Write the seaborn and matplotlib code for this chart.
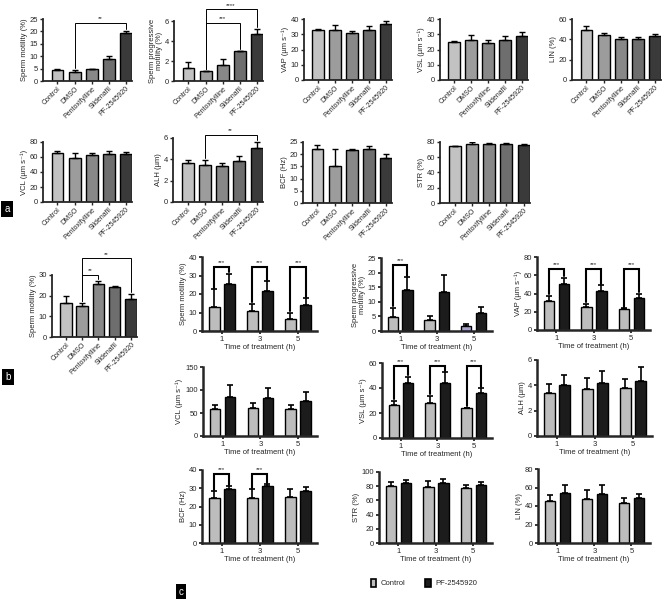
import numpy as np
import pandas as pd
import matplotlib
matplotlib.use("Agg")
import matplotlib.pyplot as plt
import seaborn as sns
from matplotlib.patches import Patch

sns.set_style("ticks")
plt.rcParams['font.family'] = ['Liberation Sans', 'DejaVu Sans']

# ---- panel a / b : five treatments ----
drugs = ["Control", "DMSO", "Pentoxifylline", "Sildenafil", "PF-2545920"]
drug_colors = ["#c2c2c2", "#9c9c9c", "#888888", "#6e6e6e", "#3a3a3a"]

motility_a = [4.3, 3.5, 5.0, 9.0, 19.3]
motility_a_err = [0.7, 0.8, 0.0, 1.2, 0.9]
prog_a = [1.3, 1.0, 1.65, 3.0, 4.7]
prog_a_err = [0.6, 0.0, 0.55, 0.0, 0.55]
vap_a = [32.5, 33.0, 30.8, 33.0, 36.7]
vap_a_err = [1.0, 3.0, 1.5, 2.6, 2.3]
vsl_a = [24.8, 26.4, 24.2, 26.4, 28.6]
vsl_a_err = [1.0, 3.3, 2.2, 2.6, 2.6]
lin_a = [48.8, 44.5, 40.6, 40.6, 42.9]
lin_a_err = [3.9, 1.7, 1.6, 1.6, 2.3]
vcl_a = [65.3, 59.0, 62.2, 64.4, 63.6]
vcl_a_err = [2.7, 6.3, 3.1, 3.6, 2.6]
alh_a = [3.63, 3.47, 3.38, 3.8, 5.05]
alh_a_err = [0.27, 0.47, 0.32, 0.52, 0.6]
bcf_a = [22.3, 15.0, 21.9, 22.3, 18.6]
bcf_a_err = [1.3, 7.3, 0.2, 0.9, 1.6]
str_a = [74.3, 76.9, 76.9, 76.9, 75.5]
str_a_err = [0.0, 3.1, 1.7, 1.7, 1.4]

motility_b = [16.5, 15.0, 25.6, 24.3, 18.6]
motility_b_err = [3.3, 1.5, 1.5, 0.3, 2.1]

# ---- panel c : control vs PF-2545920 over time ----
hours = ["1", "3", "5"]
groups = ["Control", "PF-2545920"]
group_colors = ["#bdbdbd", "#1c1c1c"]

mot_ctrl, mot_ctrl_err = [13.1, 10.8, 6.5], [9.5, 4.0, 3.4]
mot_pf, mot_pf_err = [25.6, 21.7, 14.3], [5.4, 5.2, 3.3]
prog_ctrl, prog_ctrl_err = [4.9, 3.8, 1.7], [3.1, 1.4, 0.7]
prog_pf, prog_pf_err = [14.1, 13.2, 6.1], [4.4, 6.1, 2.0]
vap_ctrl, vap_ctrl_err = [32.0, 25.5, 22.9], [5.5, 3.5, 0.7]
vap_pf, vap_pf_err = [50.2, 42.9, 35.6], [6.9, 6.2, 4.4]
vcl_ctrl, vcl_ctrl_err = [58.7, 61.6, 58.0], [8.7, 10.9, 9.4]
vcl_pf, vcl_pf_err = [85.5, 83.3, 76.8], [25.4, 21.7, 19.6]
vsl_ctrl, vsl_ctrl_err = [26.4, 28.2, 23.7], [3.4, 5.7, 0.5]
vsl_pf, vsl_pf_err = [43.9, 44.4, 35.8], [5.3, 8.3, 4.0]
alh_ctrl, alh_ctrl_err = [3.42, 3.68, 3.82], [0.66, 0.87, 0.65]
alh_pf, alh_pf_err = [4.03, 4.2, 4.37], [0.77, 0.96, 1.1]
bcf_ctrl, bcf_ctrl_err = [24.4, 24.4, 25.0], [4.0, 5.0, 4.4]
bcf_pf, bcf_pf_err = [29.5, 31.2, 28.4], [1.7, 1.1, 2.1]
str_ctrl, str_ctrl_err = [79.8, 78.9, 77.5], [6.1, 8.4, 3.7]
str_pf, str_pf_err = [84.5, 84.5, 82.2], [3.8, 5.2, 3.7]
lin_ctrl, lin_ctrl_err = [45.8, 47.3, 42.9], [5.8, 10.2, 5.5]
lin_pf, lin_pf_err = [53.8, 52.7, 48.4], [8.4, 10.2, 4.7]

W, H = 664, 599
fig = plt.figure(figsize=(W / 100, H / 100), dpi=100)


def px(x0, y0, x1, y1):
    return [x0 / W, 1 - y1 / H, (x1 - x0) / W, (y1 - y0) / H]


def bracket(ax, x1, x2, y1, y2, top, text, ymax, lw):
    ax.plot([x1, x1, x2, x2], [y1, top, top, y2], color="black", lw=lw,
            clip_on=False, solid_joinstyle="miter", zorder=4)
    ax.text((x1 + x2) / 2, top + 0.065 * ymax, text, ha="center", va="center",
            fontsize=4.5, color="#222222", clip_on=False)


def drug_panel(box, vals, errs, ylabel, ymax, step, sig=()):
    ax = fig.add_axes(px(*box))
    sns.barplot(x=drugs, y=vals, hue=drugs, order=drugs, hue_order=drugs,
                palette=drug_colors, width=0.7, edgecolor="black", linewidth=1.0,
                errorbar=None, legend=False, ax=ax)
    bars = sorted(ax.patches, key=lambda p: p.get_x())
    xs = [b.get_x() + b.get_width() / 2 for b in bars]
    ax.errorbar(xs, vals, yerr=[np.zeros(len(vals)), errs], fmt="none",
                ecolor="black", elinewidth=1.0, capsize=2.2, capthick=1.0, zorder=3)
    ax.set_xlim(-0.85, 4.37)
    ax.set_ylim(0, ymax)
    ax.set_yticks(np.arange(0, ymax + 1e-9, step))
    ax.set_xlabel("")
    ax.set_ylabel(ylabel, fontsize=5.5, labelpad=1.5, linespacing=1.0)
    ax.tick_params(axis="y", labelsize=5.5, length=2.5, width=1.0, pad=1)
    ax.tick_params(axis="x", labelsize=5.0, length=2, width=1.0, pad=1)
    plt.setp(ax.get_xticklabels(), rotation=45, ha="right", rotation_mode="anchor")
    sns.despine(ax=ax)
    for s in ["left", "bottom"]:
        ax.spines[s].set_linewidth(1.3)
    for i, j, lvl, txt in sig:
        pad = 0.03 * ymax
        bracket(ax, xs[i], xs[j], vals[i] + errs[i] + pad, vals[j] + errs[j] + pad,
                lvl * ymax, txt, ymax, 0.7)
    return ax


def time_panel(box, ctrl, ctrl_err, pf, pf_err, ylabel, ymax, step, sig=(), lvl=0.9):
    ax = fig.add_axes(px(*box))
    df = pd.DataFrame({"time": hours * 2,
                       "group": [groups[0]] * 3 + [groups[1]] * 3,
                       "value": ctrl + pf})
    sns.barplot(data=df, x="time", y="value", hue="group", order=hours,
                hue_order=groups, palette=group_colors, width=0.8, gap=0.3,
                edgecolor="black", linewidth=1.0, errorbar=None, legend=False, ax=ax)
    bars = sorted(ax.patches, key=lambda p: p.get_x())
    xc = [b.get_x() + b.get_width() / 2 for b in bars[0::2]]
    xp = [b.get_x() + b.get_width() / 2 for b in bars[1::2]]
    for xs, v, e in [(xc, ctrl, ctrl_err), (xp, pf, pf_err)]:
        ax.errorbar(xs, v, yerr=[np.zeros(3), e], fmt="none", ecolor="black",
                    elinewidth=1.2, capsize=2.4, capthick=1.2, zorder=3)
    ax.set_xlim(-0.52, 2.5)
    ax.set_ylim(0, ymax)
    ax.set_yticks(np.arange(0, ymax + 1e-9, step))
    ax.set_xlabel("Time of treatment (h)", fontsize=5.5, labelpad=1)
    ax.set_ylabel(ylabel, fontsize=5.5, labelpad=1.5, linespacing=1.0)
    ax.tick_params(axis="both", labelsize=5.5, length=2.5, width=1.3, pad=1)
    sns.despine(ax=ax)
    for s in ["left", "bottom"]:
        ax.spines[s].set_linewidth(1.8)
    for k in sig:
        pad = 0.02 * ymax
        bracket(ax, xc[k], xp[k], ctrl[k] + ctrl_err[k] + pad, pf[k] + pf_err[k] + pad,
                lvl * ymax, "***", ymax, 1.5)
    return ax, bars


# ---- panel a ----
drug_panel((43, 19, 132, 81), motility_a, motility_a_err, "Sperm motility (%)", 25, 5,
           sig=[(1, 4, 0.935, "**")])
drug_panel((174, 21, 263, 81), prog_a, prog_a_err, "Sperm progressive\nmotility (%)", 6, 2,
           sig=[(1, 3, 0.97, "***"), (1, 4, 1.2, "****")])
drug_panel((304, 19, 392, 80), vap_a, vap_a_err, "VAP (µm s⁻¹)", 40, 10)
drug_panel((440, 19, 528, 80), vsl_a, vsl_a_err, "VSL (µm s⁻¹)", 40, 10)
drug_panel((572, 19, 661, 80), lin_a, lin_a_err, "LIN (%)", 60, 20)
drug_panel((43, 142, 132, 202), vcl_a, vcl_a_err, "VCL (µm s⁻¹)", 80, 20)
drug_panel((173, 138, 263, 202), alh_a, alh_a_err, "ALH (µm)", 6, 2,
           sig=[(1, 4, 1.05, "**")])
drug_panel((303, 142, 392, 203), bcf_a, bcf_a_err, "BCF (Hz)", 25, 5)
drug_panel((440, 142, 530, 203), str_a, str_a_err, "STR (%)", 80, 20)

# ---- panel b ----
drug_panel((52, 275, 137, 337), motility_b, motility_b_err, "Sperm motility (%)", 30, 10,
           sig=[(1, 2, 1.0, "**"), (1, 4, 1.27, "**")])

# ---- panel c ----
time_panel((202, 257, 317, 331), mot_ctrl, mot_ctrl_err, mot_pf, mot_pf_err,
           "Sperm motility (%)", 40, 10, sig=[0, 1, 2], lvl=0.865)
ax_prog, prog_bars = time_panel((381, 258, 492, 331), prog_ctrl, prog_ctrl_err, prog_pf,
                                prog_pf_err, "Sperm progressive\nmotility (%)", 25, 5,
                                sig=[0], lvl=0.9)
prog_bars[4].set_facecolor("#a99fd6")
time_panel((537, 257, 650, 330), vap_ctrl, vap_ctrl_err, vap_pf, vap_pf_err,
           "VAP (µm s⁻¹)", 80, 20, sig=[0, 1, 2], lvl=0.83)
time_panel((203, 367, 317, 436), vcl_ctrl, vcl_ctrl_err, vcl_pf, vcl_pf_err,
           "VCL (µm s⁻¹)", 150, 50)
time_panel((382, 363, 492, 438), vsl_ctrl, vsl_ctrl_err, vsl_pf, vsl_pf_err,
           "VSL (µm s⁻¹)", 60, 20, sig=[0, 1, 2], lvl=0.96)
time_panel((537, 360, 652, 436), alh_ctrl, alh_ctrl_err, alh_pf, alh_pf_err,
           "ALH (µm)", 6, 2)
time_panel((202, 470, 317, 543), bcf_ctrl, bcf_ctrl_err, bcf_pf, bcf_pf_err,
           "BCF (Hz)", 40, 10, sig=[0, 1], lvl=0.94)
time_panel((379, 472, 492, 543), str_ctrl, str_ctrl_err, str_pf, str_pf_err,
           "STR (%)", 100, 20)
time_panel((538, 469, 650, 543), lin_ctrl, lin_ctrl_err, lin_pf, lin_pf_err,
           "LIN (%)", 80, 20)

# legend
handles = [Patch(facecolor=c, edgecolor="black", linewidth=1.2) for c in group_colors]
fig.legend(handles, groups, loc="center", bbox_to_anchor=(424 / W, 1 - 583 / H), ncol=2,
           frameon=False, fontsize=5.5, handlelength=0.7, handleheight=1.3,
           handletextpad=0.6, columnspacing=2.6)

# panel letters
for letter, x, y in [("a", 7, 209), ("b", 8, 377), ("c", 181, 592)]:
    fig.text(x / W, 1 - y / H, letter, color="white", fontsize=7, ha="center", va="center",
             bbox=dict(boxstyle="square,pad=0.3", fc="black", ec="none"))

fig.savefig("out.png", dpi=100)
